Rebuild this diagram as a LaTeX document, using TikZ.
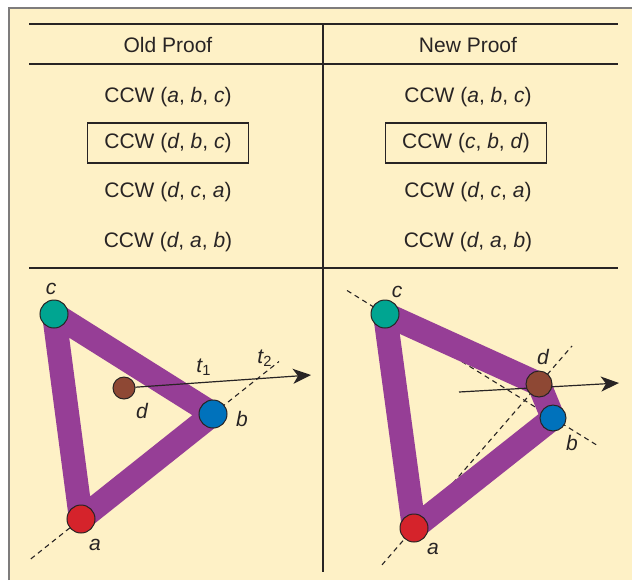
\documentclass[tikz,border=0pt]{standalone}
\usepackage{fontspec}
\setmainfont{Liberation Sans}
\usetikzlibrary{positioning,arrows.meta,calc,backgrounds}

\definecolor{paper}{RGB}{254,241,198}
\definecolor{edge}{RGB}{150,62,150}
\definecolor{ptA}{RGB}{213,35,43}
\definecolor{ptB}{RGB}{0,114,188}
\definecolor{ptC}{RGB}{0,165,145}
\definecolor{ptD}{RGB}{142,72,52}
\definecolor{ink}{RGB}{40,36,36}

\newcommand\ccw[3]{CCW (\textit{#1}, \textit{#2}, \textit{#3})}

\begin{document}
\begin{tikzpicture}[
  x=0.5pt, y=-0.5pt,
  cell/.style={font=\fontsize{10.5}{12}\selectfont, text=ink, inner sep=0pt},
  boxed/.style={cell, draw=ink, line width=0.6pt, minimum width=80.5pt, minimum height=20pt},
  rule/.style={draw=ink, line width=0.7pt},
  side/.style={draw=edge, line width=12pt, line join=round},
  guide/.style={draw=ink, line width=0.55pt, dash pattern=on 2.5pt off 2pt},
  pt/.style={circle, draw=ink, line width=0.5pt, minimum size=14pt, inner sep=0pt},
  lbl/.style={cell, font=\fontsize{10.5}{12}\selectfont\itshape},
  ray/.style={draw=ink, line width=0.6pt, -{Stealth[length=9pt,width=7.5pt,inset=2.5pt]}}
]
\useasboundingbox (0,0) rectangle (632,580);

% Table: headers and rows
\node[cell] (oldh) at (168,45) {Old Proof};
\node[cell] (newh) at (468,45) {New Proof};

\node[cell]  (o1) at (168,97)  {\ccw{a}{b}{c}};
\node[boxed] (o2) at (168,143) {\ccw{d}{b}{c}};
\node[cell]  (o3) at (168,192) {\ccw{d}{c}{a}};
\node[cell]  (o4) at (168,242) {\ccw{d}{a}{b}};

\node[cell]  (n1) at (468,97)  {\ccw{a}{b}{c}};
\node[boxed] (n2) at (466,143) {\ccw{c}{b}{d}};
\node[cell]  (n3) at (468,192) {\ccw{d}{c}{a}};
\node[cell]  (n4) at (468,242) {\ccw{d}{a}{b}};

% Left: old proof points
\node[pt, fill=ptC] (c1) at (54,314) {};
\node[pt, fill=ptB] (b1) at (213,414) {};
\node[pt, fill=ptA] (a1) at (81,519) {};
\node[pt, fill=ptD, minimum size=11pt] (d1) at (124,388) {};

\node[lbl] (lc1) at (51,289) {c};
\node[lbl] (lb1) at (242,419) {b};
\node[lbl] (la1) at (95,545) {a};
\node[lbl] (ld1) at (142,411) {d};
\node[lbl] (t1) at (204,367) {t\textsubscript{\upshape 1}};
\node[lbl] (t2) at (265,358) {t\textsubscript{\upshape 2}};
\coordinate (tip1) at (311,375);

% Right: new proof points
\node[pt, fill=ptC] (c2) at (385,314) {};
\node[pt, fill=ptD, minimum size=13pt] (d2) at (539,384) {};
\node[pt, fill=ptB, minimum size=13pt] (b2) at (553,418) {};
\node[pt, fill=ptA] (a2) at (414,528) {};

\node[lbl] (lc2) at (397,292) {c};
\node[lbl] (ld2) at (543,357) {d};
\node[lbl] (lb2) at (572,443) {b};
\node[lbl] (la2) at (433,549) {a};
\coordinate (tail2) at (459,392);
\coordinate (tip2) at (619,383);

\begin{scope}[on background layer]
  \fill[paper] (9,8) rectangle (632,580);
  \draw[ink!60, line width=0.6pt] (9,580) -- (9,8) -- (632,8);

  % table rules
  \draw[rule] (29,24) -- (618,24);
  \draw[rule] (29,64) -- (618,64);
  \draw[rule] (29,268) -- (618,268);
  \draw[rule] (323,24) -- (323,572);

  % dashed guides
  \draw[guide] ($(a1)!-0.38!(b1)$) -- ($(a1)!1.5!(b1)$);
  \draw[guide] ($(c2)!-0.226!(b2)$) -- ($(c2)!1.27!(b2)$);
  \draw[guide] ($(a2)!-0.256!(d2)$) -- ($(a2)!1.264!(d2)$);

  % hull edges
  \draw[side] (a1.center) -- (b1.center) -- (c1.center) -- cycle;
  \draw[side] (a2.center) -- (b2.center) -- (d2.center) -- (c2.center) -- cycle;

  % rays
  \draw[ray] (d1) -- (tip1);
  \draw[ray] (tail2) -- (tip2);
\end{scope}
\end{tikzpicture}
\end{document}
